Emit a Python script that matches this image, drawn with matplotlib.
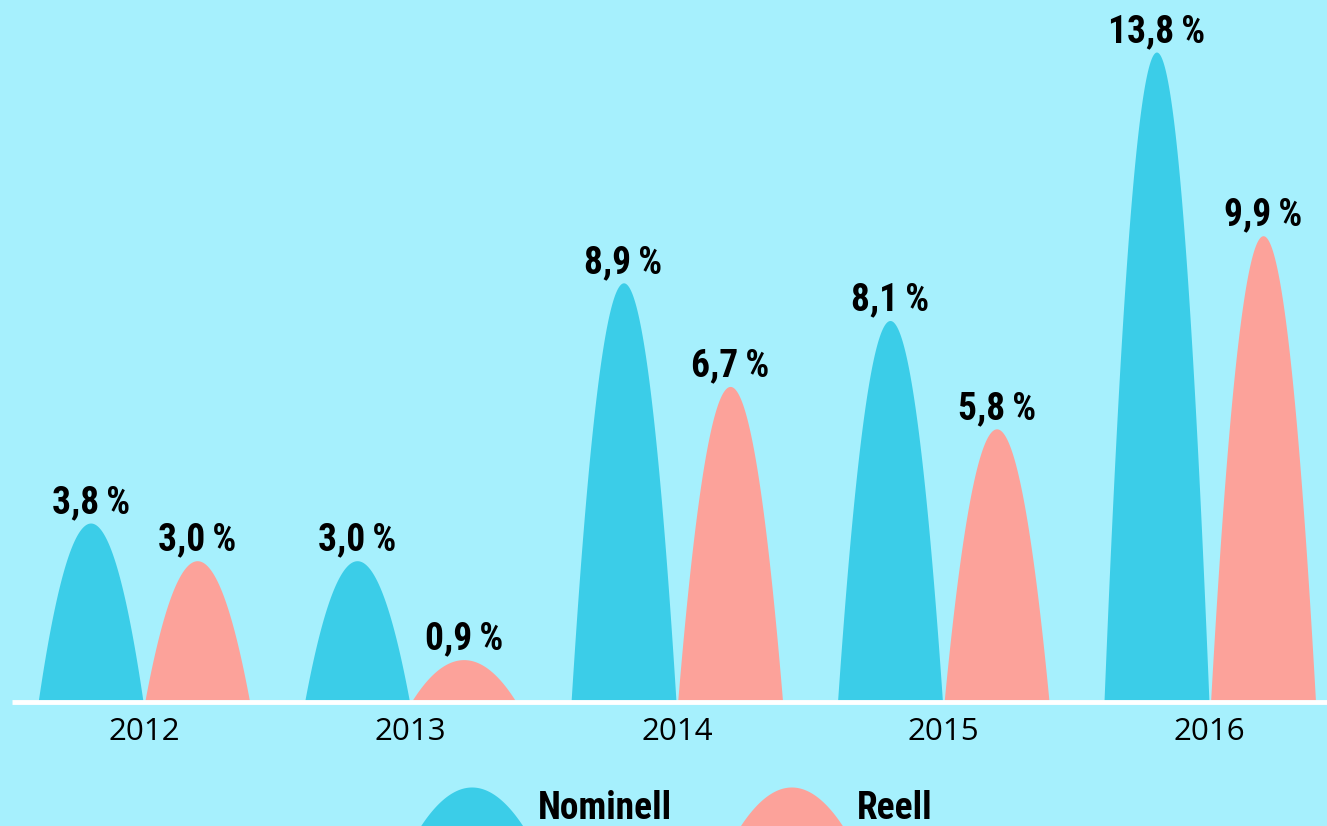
import numpy as np
import matplotlib.pyplot as plt
from matplotlib import font_manager

# Data
years = ['2012', '2013', '2014', '2015', '2016']
nominell = [3.8, 3.0, 8.9, 8.1, 13.8]
reell = [3.0, 0.9, 6.7, 5.8, 9.9]
series_names = ['Nominell', 'Reell']

BG = '#A6F0FD'
C_NOM = '#3BCDE8'
C_REE = '#FCA29A'

YEAR_FONT = ['Open Sans', 'DejaVu Sans']

# pick a narrow bold font if there is one
names = {f.name for f in font_manager.fontManager.ttflist}
dejavu_cond = any(f.name == 'DejaVu Sans' and f.stretch == 'condensed'
                  for f in font_manager.fontManager.ttflist)
LABEL_STRETCH = 'normal'
if 'Roboto Condensed' in names:
    LABEL_FONT, LABEL_SIZE = 'Roboto Condensed', 27
elif 'Liberation Sans Narrow' in names:
    LABEL_FONT, LABEL_SIZE = 'Liberation Sans Narrow', 26
elif dejavu_cond:
    LABEL_FONT, LABEL_SIZE, LABEL_STRETCH = 'DejaVu Sans', 26, 'condensed'
else:
    LABEL_FONT, LABEL_SIZE = 'DejaVu Sans', 21


def fmt(v):
    return f"{v:.1f}".replace('.', ',') + '\u2009%'


def arch(ax, center, height, width, color, base=0.0, **kw):
    # parabolic "bar"
    xs = np.linspace(center - width / 2, center + width / 2, 200)
    t = (xs - center) / (width / 2)
    ys = base + height * (1 - t ** 2)
    ax.fill_between(xs, base, ys, color=color, linewidth=0, **kw)


fig = plt.figure(figsize=(13.27, 8.26), dpi=100)
fig.patch.set_facecolor(BG)
ax = fig.add_axes([0, 0, 1, 1])
ax.set_facecolor(BG)
ax.axis('off')

px_per_unit = 47.1
ax.set_xlim(-0.54, 4.44)
ax.set_ylim(-(826 - 702) / px_per_unit, 702 / px_per_unit)

x = np.arange(len(years))
off = 0.2
w = 0.394

label_kw = dict(fontsize=LABEL_SIZE, fontweight='bold',
                family=[LABEL_FONT, 'DejaVu Sans'],
                fontstretch=LABEL_STRETCH, color='black')

for i in range(len(years)):
    arch(ax, x[i] - off, nominell[i], w, C_NOM)
    arch(ax, x[i] + off, reell[i], w, C_REE)
    for xc, v in [(x[i] - off, nominell[i]), (x[i] + off, reell[i])]:
        ax.annotate(fmt(v), (xc, v), xytext=(0, 10), textcoords='offset pixels',
                    ha='center', va='baseline', **label_kw)
    ax.text(x[i], -0.64, years[i], ha='center', va='center', fontsize=22.5,
            family=YEAR_FONT, color='black')

# baseline
ax.plot([-0.495, 4.44], [0, 0], color='white', linewidth=3.5, solid_capstyle='butt')

# legend (manual, arches sitting on the bottom edge)
ybot = ax.get_ylim()[0]
leg_h = (826 - 787) / px_per_unit
leg_x = [1.23, 2.43]
for xc, col, name in zip(leg_x, [C_NOM, C_REE], series_names):
    arch(ax, xc, leg_h * 1.05, w, col, base=ybot - leg_h * 0.05)
    ax.text(xc + w / 2 + 0.05, ybot + 7 / px_per_unit, name, ha='left', va='baseline',
            **label_kw)

fig.savefig('out.png', dpi=100, facecolor=BG)
